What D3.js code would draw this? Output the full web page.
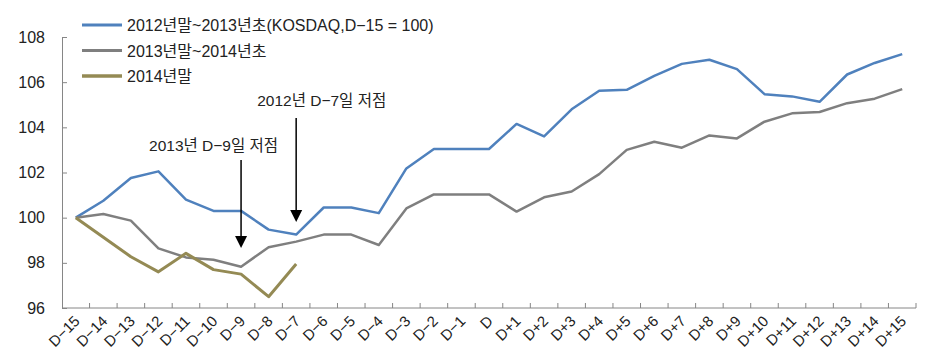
<!DOCTYPE html>
<html>
<head>
<meta charset="utf-8">
<script src="https://cdn.jsdelivr.net/npm/d3@7"></script>
<style>
  body { margin: 0; background: #fff; }
  text { font-family: "Liberation Sans", Arial, "Noto Sans CJK KR", sans-serif; fill: #222; }
</style>
</head>
<body>
<div id="chart"></div>
<script>
// categories D-15 ... D+15
const days = ["D-15","D-14","D-13","D-12","D-11","D-10","D-9","D-8","D-7","D-6","D-5","D-4","D-3","D-2","D-1","D",
  "D+1","D+2","D+3","D+4","D+5","D+6","D+7","D+8","D+9","D+10","D+11","D+12","D+13","D+14","D+15"];

const s2012 = [100, 100.75, 101.76, 102.05, 100.8, 100.3, 100.3, 99.47, 99.25, 100.45, 100.45, 100.2, 102.18, 103.04, 103.04, 103.04,
  104.15, 103.6, 104.8, 105.62, 105.66, 106.28, 106.81, 106.99, 106.58, 105.47, 105.37, 105.13, 106.34, 106.85, 107.24];
const s2013 = [100, 100.16, 99.87, 98.64, 98.24, 98.14, 97.83, 98.69, 98.94, 99.25, 99.25, 98.79, 100.41, 101.03, 101.03, 101.03,
  100.27, 100.9, 101.16, 101.93, 103.0, 103.36, 103.1, 103.64, 103.51, 104.25, 104.62, 104.68, 105.07, 105.27, 105.69];
const s2014 = [100, 99.13, 98.27, 97.6, 98.42, 97.7, 97.5, 96.5, 97.95];

const seriesNames = ["2012년말~2013년초(KOSDAQ,D\u221215 = 100)", "2013년말~2014년초", "2014년말"];
const colors = ["#4f81bd", "#7f7f7f", "#948a54"];
const yTicks = [96, 98, 100, 102, 104, 106, 108];

// annotations: label, category, arrow top / tip values
const noteLabels = ["2013년 D\u22129일 저점", "2012년 D\u22127일 저점"];
const noteDays = ["D-9", "D-7"];
const noteTop = [102.55, 104.41];
const noteTip = [98.66, 99.81];
const noteTextY = [102.95, 104.94];

const svgWidth = 946, svgHeight = 364;
const margin = {top: 37, right: 30, bottom: 56, left: 62};
const width = svgWidth - margin.left - margin.right;
const height = svgHeight - margin.top - margin.bottom;

const svg = d3.select("#chart").append("svg")
  .attr("width", svgWidth)
  .attr("height", svgHeight);
const g = svg.append("g").attr("transform", `translate(${margin.left},${margin.top})`);

const x = d3.scaleBand().domain(days).range([0, 854]);
const y = d3.scaleLinear().domain([96, 108]).range([height, 0]);
const cx = d => x(d) + x.bandwidth() / 2;

// y axis
const yAxis = g.append("g")
  .call(d3.axisLeft(y).tickValues(yTicks).tickSize(-5).tickPadding(17).tickFormat(d3.format("d")));
yAxis.select(".domain").attr("stroke", "#868686");
yAxis.selectAll(".tick line").attr("stroke", "#868686");
yAxis.selectAll("text").style("font-size", "16px").attr("fill", "#222");

// x axis, ticks on band edges
const xAxis = g.append("g").attr("transform", `translate(0,${height})`);
xAxis.append("line").attr("x1", 0).attr("x2", 854).attr("stroke", "#868686");
xAxis.selectAll("line.tk").data(days)
  .enter().append("line").attr("class", "tk")
  .attr("x1", d => x(d) + x.bandwidth()).attr("x2", d => x(d) + x.bandwidth())
  .attr("y1", 0).attr("y2", -5).attr("stroke", "#868686");
xAxis.selectAll("text").data(days).enter().append("text")
  .attr("transform", d => `translate(${cx(d) + 5},${14}) rotate(-45)`)
  .attr("text-anchor", "end")
  .style("font-size", "15px")
  .text(d => d.replace("-", "\u2212"));

// lines
const line = d3.line().x((d, i) => cx(days[i])).y(d => y(d));
[s2012, s2013, s2014].forEach((s, i) => {
  g.append("path").datum(s)
    .attr("fill", "none")
    .attr("stroke", colors[i])
    .attr("stroke-width", i === 2 ? 3 : 2.5)
    .attr("stroke-linejoin", "round")
    .attr("d", line);
});

// annotations
const textShift = [-92, -39];
noteLabels.forEach((label, i) => {
  const ax = cx(noteDays[i]);
  const tip = y(noteTip[i]);
  g.append("line").attr("x1", ax).attr("x2", ax)
    .attr("y1", y(noteTop[i])).attr("y2", tip - 10)
    .attr("stroke", "#000").attr("stroke-width", 1.5);
  g.append("path")
    .attr("d", `M${ax - 6},${tip - 12}L${ax + 6},${tip - 12}L${ax},${tip}Z`)
    .attr("fill", "#000");
  g.append("text").attr("x", ax + textShift[i]).attr("y", y(noteTextY[i]))
    .style("font-size", "15.5px")
    .text(label);
});

// legend
const legend = svg.append("g").attr("transform", "translate(82,25)");
seriesNames.forEach((name, i) => {
  const row = legend.append("g").attr("transform", `translate(0,${i * 25.5})`);
  row.append("line").attr("x1", 0).attr("x2", 40)
    .attr("stroke", colors[i]).attr("stroke-width", i === 2 ? 3.5 : 3);
  row.append("text").attr("x", 45).attr("y", 6).style("font-size", "16px").text(name);
});
</script>
</body>
</html>
